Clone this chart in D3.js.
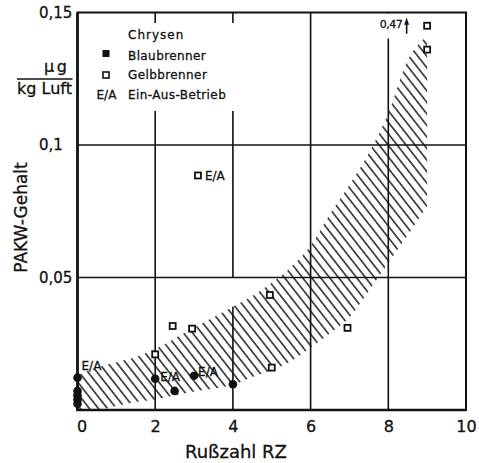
<!DOCTYPE html>
<html>
<head>
<meta charset="utf-8">
<script src="https://cdn.jsdelivr.net/npm/d3@7"></script>
<style>
  body { margin: 0; background: #fff; }
  svg { display: block; font-family: "DejaVu Sans", sans-serif; }
  text { stroke: #111; stroke-width: 0.3; }
</style>
</head>
<body>
<div id="chart"></div>
<script>
// Chrysen: Blaubrenner (filled) and Gelbbrenner (open)
const blauRZ = [0, 0, 0, 0, 0, 2, 2.5, 3, 4];
const blauPAK = [0.0122, 0.0072, 0.0056, 0.004, 0.0024, 0.0118, 0.0072, 0.0129, 0.0097];
const gelbRZ = [2, 2.45, 2.95, 3.1, 4.95, 5, 6.95, 9, 9];
const gelbPAK = [0.021, 0.0317, 0.0307, 0.0885, 0.0434, 0.016, 0.031, 0.145, 0.136];

// points measured in on-off mode (E/A)
const eaRZ = [0, 2, 3, 3.1];
const eaPAK = [0.0122, 0.0118, 0.0129, 0.0885];

// value off the scale, drawn at the top
const offRZ = 9;
const offPAK = 0.145;
const offLabel = "0,47";

// hatched band
const bandRZ    = [0, 0.5, 1, 1.5, 2, 2.5, 3, 3.5, 4, 4.5, 5, 5.5, 6, 6.5, 7, 7.5, 8, 8.5, 9];
const bandUpper = [0.013, 0.016, 0.018, 0.020, 0.023, 0.027, 0.031, 0.035, 0.039, 0.043, 0.048, 0.054, 0.062, 0.074, 0.085, 0.097, 0.112, 0.132, 0.141];
const bandLower = [0, 0, 0.0015, 0.003, 0.004, 0.0055, 0.007, 0.008, 0.0095, 0.0125, 0.015, 0.0185, 0.0235, 0.029, 0.035, 0.045, 0.0555, 0.066, 0.077];

const xTicks = [0, 2, 4, 6, 8, 10];
const yTicks = [0.05, 0.1, 0.15];
const yTickLabels = ["0,05", "0,1", "0,15"];
const xGrid = [2, 4, 6, 8];
const yGrid = [0.05, 0.1];

const legendTitle = "Chrysen";
const legendLabels = ["Blaubrenner", "Gelbbrenner", "Ein-Aus-Betrieb"];

const width = 479, height = 463;
const margin = { top: 12.5, right: 13, bottom: 53, left: 77.5 };

const x = d3.scaleLinear().domain([0, 10]).range([margin.left, width - margin.right]);
const y = d3.scaleLinear().domain([0, 0.15]).range([height - margin.bottom, margin.top]);

const svg = d3.select("#chart").append("svg")
  .attr("width", width)
  .attr("height", height);

// hatch pattern, lines falling to the right, a bit steeper than 45 deg
svg.append("defs").append("pattern")
  .attr("id", "hatch")
  .attr("patternUnits", "userSpaceOnUse")
  .attr("width", 20)
  .attr("height", 7.1)
  .attr("patternTransform", "rotate(52)")
  .append("path")
  .attr("d", "M-1,3.55 L21,3.55")
  .attr("stroke", "#111")
  .attr("stroke-width", 1.4);

// grid
const upperAt = v => bandUpper[bandRZ.indexOf(v)];
const vSegs = xGrid.flatMap(v => v === 4 ? [[v, 0, upperAt(v)], [v, 0.05, 0.15]] : [[v, 0, 0.15]]);
svg.append("g")
  .selectAll("line.v")
  .data(vSegs)
  .join("line")
  .attr("x1", d => x(d[0])).attr("x2", d => x(d[0]))
  .attr("y1", d => y(d[1])).attr("y2", d => y(d[2]))
  .attr("stroke", "#111").attr("stroke-width", 1.6);
svg.append("g")
  .selectAll("line.h")
  .data(yGrid)
  .join("line")
  .attr("x1", x(0)).attr("x2", x(10))
  .attr("y1", d => y(d)).attr("y2", d => y(d))
  .attr("stroke", "#111").attr("stroke-width", 1.6);

// white under legend and the off-scale label
svg.append("rect").attr("x", 84).attr("y", 23).attr("width", 156).attr("height", 88).attr("fill", "#fff");
svg.append("rect").attr("x", x(offRZ) - 48).attr("y", y(0.15) + 1).attr("width", 34).attr("height", 25).attr("fill", "#fff");

// band
const area = d3.area()
  .x((d, i) => x(bandRZ[i]))
  .y0((d, i) => y(bandLower[i]))
  .y1((d, i) => y(bandUpper[i]))
  .curve(d3.curveMonotoneX);
svg.append("path")
  .datum(bandRZ)
  .attr("d", area)
  .attr("fill", "url(#hatch)");

// frame
svg.append("rect")
  .attr("x", x(0)).attr("y", y(0.15))
  .attr("width", x(10) - x(0)).attr("height", y(0) - y(0.15))
  .attr("fill", "none").attr("stroke", "#111").attr("stroke-width", 2);
svg.append("path")
  .attr("d", `M${x(0)},${y(0.15)} L${x(0)},${y(0)} L${x(10)},${y(0)}`)
  .attr("fill", "none").attr("stroke", "#111").attr("stroke-width", 2.6);

// axes
const xAxis = svg.append("g")
  .attr("transform", `translate(0,${y(0)})`)
  .call(d3.axisBottom(x).tickValues(xTicks).tickSize(0).tickPadding(10.5));
xAxis.select(".domain").remove();
xAxis.selectAll("text").attr("font-size", 16).attr("font-family", "DejaVu Sans").attr("fill", "#111")
  .attr("dx", d => d === 0 ? 4 : 0);

const yAxis = svg.append("g")
  .attr("transform", "translate(39,0)")
  .call(d3.axisRight(y).tickValues(yTicks).tickFormat((d, i) => yTickLabels[i]).tickSize(0).tickPadding(0));
yAxis.select(".domain").remove();
yAxis.selectAll("text").attr("font-size", 15).attr("font-family", "DejaVu Sans").attr("fill", "#111");

// axis titles
svg.append("text")
  .attr("x", 185).attr("y", 458)
  .attr("font-size", 18).attr("fill", "#111")
  .text("Rußzahl RZ");
svg.append("text")
  .attr("transform", "translate(26.5,217.5) rotate(-90)")
  .attr("text-anchor", "middle")
  .attr("font-size", 17).attr("fill", "#111")
  .text("PAKW-Gehalt");
svg.append("text")
  .attr("x", 44).attr("y", 71.5)
  .attr("font-size", 16).attr("letter-spacing", 2.5).attr("fill", "#111")
  .text("µg");
svg.append("line")
  .attr("x1", 17).attr("x2", 72.5).attr("y1", 79).attr("y2", 79)
  .attr("stroke", "#111").attr("stroke-width", 1.6);
svg.append("text")
  .attr("x", 17).attr("y", 94)
  .attr("font-size", 16).attr("fill", "#111")
  .text("kg Luft");

// legend
const lg = svg.append("g").attr("font-size", 12).attr("fill", "#111");
lg.append("text").attr("x", 128).attr("y", 38.5).attr("letter-spacing", 1).text(legendTitle);
lg.selectAll("text.item")
  .data(legendLabels)
  .join("text")
  .attr("x", 128)
  .attr("y", (d, i) => 59.5 + i * 19.5)
  .attr("letter-spacing", 0.4)
  .text(d => d);
lg.append("rect").attr("x", 102.5).attr("y", 50).attr("width", 7).attr("height", 7).attr("fill", "#111");
lg.append("rect").attr("x", 103).attr("y", 72).attr("width", 6).attr("height", 6)
  .attr("fill", "#fff").attr("stroke", "#111").attr("stroke-width", 1.6);
lg.append("text").attr("x", 96.5).attr("y", 98.5).text("E/A");

// Blaubrenner points
svg.append("g")
  .selectAll("circle")
  .data(blauRZ)
  .join("circle")
  .attr("cx", (d, i) => x(blauRZ[i]))
  .attr("cy", (d, i) => y(blauPAK[i]))
  .attr("r", 4.3)
  .attr("fill", "#111");

// Gelbbrenner points
svg.append("g")
  .selectAll("rect")
  .data(gelbRZ)
  .join("rect")
  .attr("x", (d, i) => x(gelbRZ[i]) - 3)
  .attr("y", (d, i) => y(gelbPAK[i]) - 3)
  .attr("width", 6).attr("height", 6)
  .attr("fill", "#fff")
  .attr("stroke", "#111")
  .attr("stroke-width", 1.8);

// E/A labels
const eaOffsets = [[4, -8], [5, 2], [4, 0], [7, 5]];
svg.append("g")
  .selectAll("text")
  .data(eaRZ)
  .join("text")
  .attr("x", (d, i) => x(eaRZ[i]) + eaOffsets[i][0])
  .attr("y", (d, i) => y(eaPAK[i]) + eaOffsets[i][1])
  .attr("font-size", 12).attr("fill", "#111")
  .text("E/A");

// off-scale marker: label and arrow
const ox = x(offRZ), oy = y(offPAK);
svg.append("text")
  .attr("x", ox - 25).attr("y", oy + 2.5)
  .attr("text-anchor", "end")
  .attr("font-size", 11).attr("letter-spacing", -0.5).attr("fill", "#111")
  .text(offLabel);
svg.append("line")
  .attr("x1", ox - 20.5).attr("x2", ox - 20.5)
  .attr("y1", oy + 8).attr("y2", oy - 3)
  .attr("stroke", "#111").attr("stroke-width", 1.6);
svg.append("path")
  .attr("d", `M${ox - 20.5},${oy - 8} L${ox - 23},${oy - 1} L${ox - 18},${oy - 1} Z`)
  .attr("fill", "#111");
</script>
</body>
</html>
